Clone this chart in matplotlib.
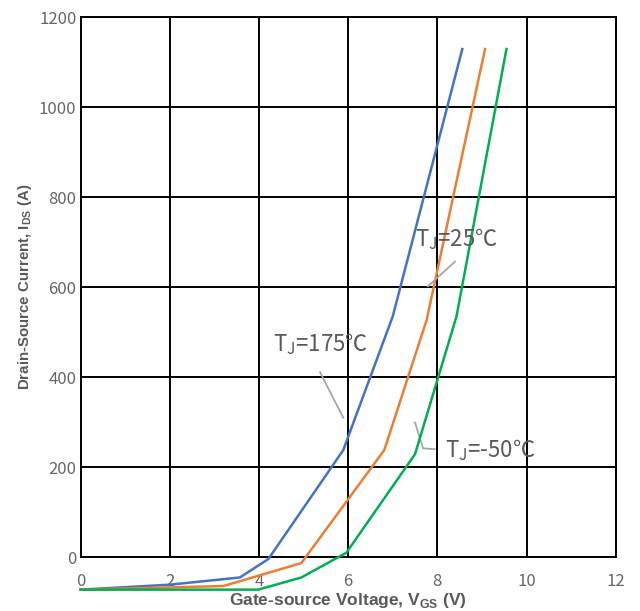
import matplotlib
matplotlib.use("Agg")
from matplotlib import pyplot as plt

plt.rcParams['font.family'] = ['Noto Sans CJK SC', 'DejaVu Sans']

# curve data (V_GS in V, I_DS in A)
vgs_175 = [0, 2.0, 3.57, 4.21, 5.89, 7.0, 8.56]
ids_175 = [-72, -61, -45, -4, 238, 535, 1129]

vgs_25 = [0, 3.2, 4.95, 6.81, 7.76, 9.07]
ids_25 = [-72, -64, -13, 238, 527, 1129]

vgs_m50 = [0, 3.98, 4.95, 5.96, 7.5, 8.43, 9.55]
ids_m50 = [-72, -72, -45, 10, 229, 535, 1129]

x_ticks = [0, 2, 4, 6, 8, 10, 12]
y_ticks = [0, 200, 400, 600, 800, 1000, 1200]

grey = '#595959'

fig = plt.figure(figsize=(6.4, 6.11), dpi=100)
ax = fig.add_axes([0.126, 0.088, 0.836, 0.884])

ax.plot(vgs_175, ids_175, color='#4472C4', lw=1.8, clip_on=False, zorder=3)
ax.plot(vgs_25, ids_25, color='#ED7D31', lw=1.8, clip_on=False, zorder=3)
ax.plot(vgs_m50, ids_m50, color='#00B050', lw=1.8, clip_on=False, zorder=3)

ax.set_xlim(0, 12)
ax.set_ylim(0, 1200)
ax.set_xticks(x_ticks)
ax.set_yticks(y_ticks)
ax.grid(True, color='black', lw=1.4)
ax.set_axisbelow(True)
for s in ax.spines.values():
    s.set_color('black')
    s.set_linewidth(1.4)
ax.tick_params(length=0, labelsize=12, labelcolor='#666666')
ax.tick_params(axis='x', pad=11)
ax.tick_params(axis='y', pad=3)

ax.set_xlabel(r'Gate-source Voltage, V$_\mathregular{GS}$ (V)', fontsize=12.5,
              fontweight='bold', color=grey, family='Liberation Sans')
ax.xaxis.set_label_coords(0.5, -0.062)
ax.set_ylabel(r'Drain-Source Current, I$_\mathregular{DS}$ (A)', fontsize=10.8,
              fontweight='bold', color=grey, family='Liberation Sans')
ax.yaxis.set_label_coords(-0.088, 0.5)

# annotations with leader lines
ax.plot([5.37, 5.89], [411, 310], color='#A6A6A6', lw=1.3, zorder=2)
ax.text(5.37, 474, r'T$_\mathregular{J}$=175℃', fontsize=16, color=grey,
        ha='center', va='center')

ax.plot([8.40, 7.79], [657, 602], color='#A6A6A6', lw=1.3, zorder=4)
ax.text(8.42, 707, r'T$_\mathregular{J}$=25℃', fontsize=16, color=grey,
        ha='center', va='center')

ax.plot([7.5, 7.68, 7.94], [299, 242, 240], color='#A6A6A6', lw=1.3, zorder=2)
ax.text(9.18, 238, r'T$_\mathregular{J}$=-50℃', fontsize=16, color=grey,
        ha='center', va='center')

fig.savefig('out.png', dpi=100)
